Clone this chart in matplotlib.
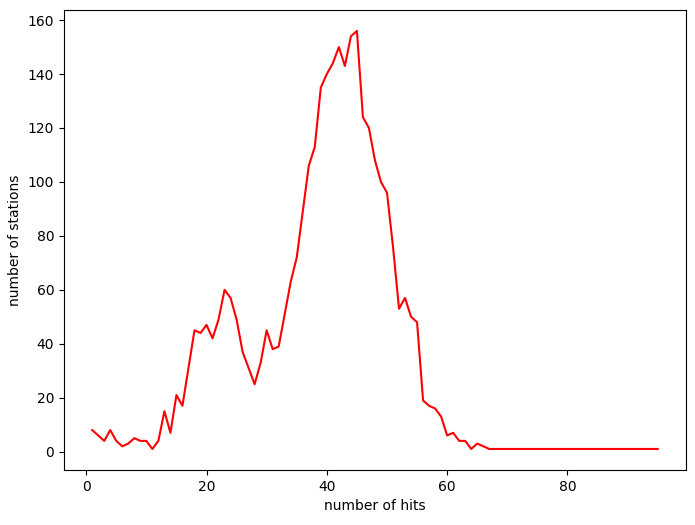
import matplotlib
matplotlib.use("Agg")
import matplotlib.pyplot as plt

hits = list(range(1, 96))
head = [8,6,4,8,4,2,3,5,4,4,1,4,15,7,21,17,31,45,44,47,42,49,60,57,49,37,31,25,33,45,
        38,39,51,63,72,89,106,113,135,140,144,150,143,154,156,124,120,108,100,96,76,53,57,50,48,
        19,17,16,13,6,7,4,4,1,3,2,1]
stations = head + [1] * (95 - len(head))

fig, ax = plt.subplots(figsize=(6.95, 5.25), dpi=100)
ax.plot(hits, stations, color="red")
ax.set_xlabel("number of hits")
ax.set_ylabel("number of stations")
fig.subplots_adjust(left=0.092, right=0.987, top=0.981, bottom=0.105)
fig.savefig("out.png")
